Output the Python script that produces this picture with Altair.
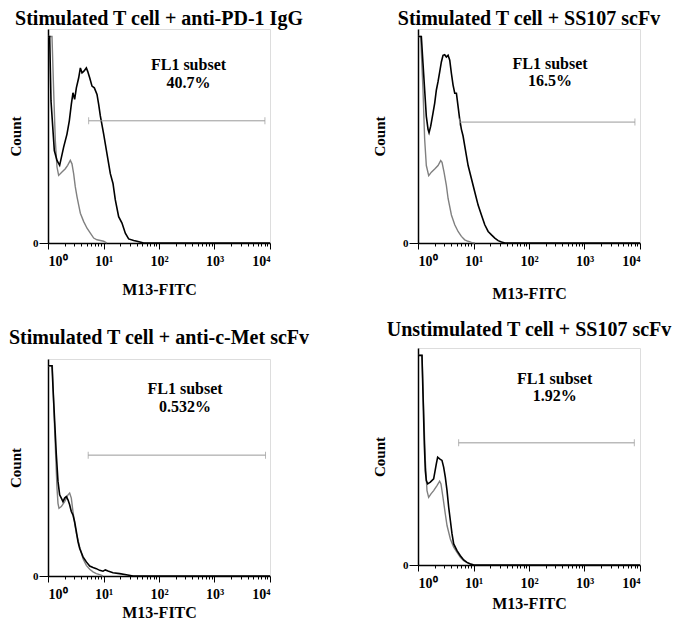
import altair as alt
import pandas as pd

FONT = "Liberation Serif"

titles = ["Stimulated T cell + anti-PD-1 IgG", "Stimulated T cell + SS107 scFv",
          "Stimulated T cell + anti-c-Met scFv", "Unstimulated T cell + SS107 scFv"]
subset_label = "FL1 subset"
subset_pct = ["40.7%", "16.5%", "0.532%", "1.92%"]

# x readings in log10(fluorescence), y readings in % of the panel's count range
p1_black_lg = [0, 0.030, 0.054, 0.114, 0.162, 0.210, 0.282, 0.342, 0.384, 0.420,
               0.450, 0.480, 0.511, 0.553, 0.583, 0.613, 0.643, 0.691, 0.715, 0.751,
               0.793, 0.835, 0.883, 0.913, 0.943, 1.003, 1.063, 1.123, 1.171, 1.213,
               1.273, 1.333, 1.393, 1.453, 1.544, 1.604, 1.724, 4.0]
p1_black_ct = [96.5, 96.5, 66.4, 43.2, 38.6, 36.3, 44.8, 50.9, 57.1, 64.8,
               70.2, 67.1, 72.5, 77.2, 81.8, 79.5, 80.2, 81.8, 80.2, 77.2,
               73.3, 72.5, 69.4, 64.8, 59.4, 50.9, 41.7, 32.4, 27.8, 20.1,
               12.3, 9.3, 4.6, 1.9, 1.2, 0.8, 0, 0]
p1_gray_lg = [0, 0.072, 0.102, 0.132, 0.162, 0.192, 0.252, 0.312, 0.354, 0.402,
              0.432, 0.462, 0.492, 0.523, 0.553, 0.583, 0.643, 0.703, 0.763, 0.823,
              0.883, 1.003, 1.063]
p1_gray_ct = [96.5, 96.5, 71.0, 47.8, 35.5, 31.6, 33.2, 34.7, 36.3, 38.6,
              37.0, 32.4, 26.2, 21.6, 17.7, 13.9, 10.0, 6.9, 4.6, 2.3,
              1.5, 0.8, 0]

p2_black_lg = [0, 0.060, 0.090, 0.120, 0.150, 0.181, 0.199, 0.229, 0.271, 0.301,
               0.331, 0.361, 0.391, 0.421, 0.451, 0.481, 0.511, 0.542, 0.572, 0.602,
               0.632, 0.662, 0.692, 0.722, 0.752, 0.782, 0.812, 0.842, 0.872, 0.903,
               0.963, 1.023, 1.083, 1.143, 1.203, 1.264, 1.324, 1.384, 1.444, 1.504,
               1.564, 4.0]
p2_black_ct = [96.5, 96.5, 83.8, 71.5, 59.2, 53.1, 51.5, 54.6, 60.8, 65.4,
               71.5, 75.4, 80.0, 84.6, 87.7, 88.0, 86.9, 87.7, 85.4, 79.2,
               73.8, 70.0, 70.0, 63.8, 57.7, 53.1, 50.0, 45.4, 40.8, 36.2,
               30.0, 23.8, 17.7, 13.1, 8.5, 5.4, 3.8, 2.3, 1.1, 0.5,
               0, 0]
p2_gray_lg = [0, 0.048, 0.090, 0.120, 0.150, 0.193, 0.241, 0.301, 0.361, 0.409,
              0.433, 0.469, 0.511, 0.542, 0.602, 0.662, 0.722, 0.782, 0.842, 0.903,
              0.963, 1.023]
p2_gray_ct = [96.5, 96.5, 71.5, 48.5, 36.2, 31.5, 33.1, 34.6, 36.2, 38.5,
              37.7, 33.1, 26.9, 20.8, 13.1, 8.5, 5.4, 3.1, 1.5, 0.8,
              0.3, 0]

p3_black_lg = [0, 0.072, 0.090, 0.120, 0.150, 0.180, 0.210, 0.240, 0.270, 0.300,
               0.330, 0.360, 0.390, 0.420, 0.450, 0.480, 0.511, 0.541, 0.571, 0.631,
               0.691, 0.751, 0.811, 0.871, 0.931, 0.991, 1.033, 1.081, 1.171, 1.291,
               1.411, 1.532, 4.0]
p3_black_ct = [96.9, 96.9, 86.9, 71.4, 56.0, 43.6, 37.4, 35.9, 34.3, 35.9,
               36.6, 35.1, 32.8, 29.7, 28.1, 25.0, 20.4, 15.8, 12.7, 8.8,
               6.5, 4.6, 3.9, 3.4, 2.6, 2.2, 2.8, 2.3, 1.5, 1.1,
               0.6, 0, 0]
p3_gray_lg = [0, 0.078, 0.102, 0.138, 0.162, 0.180, 0.198, 0.240, 0.300, 0.360,
              0.390, 0.420, 0.450, 0.480, 0.511, 0.571, 0.631, 0.691, 0.751, 0.811,
              0.871, 0.931, 0.991]
p3_gray_ct = [96.9, 96.9, 79.1, 56.0, 40.5, 33.5, 31.2, 32.0, 34.3, 37.4,
              38.2, 35.9, 29.7, 24.3, 19.6, 13.4, 8.0, 4.9, 3.1, 1.9,
              1.1, 0.6, 0]

p4_black_lg = [0, 0.072, 0.090, 0.114, 0.132, 0.150, 0.174, 0.222, 0.282, 0.330,
               0.354, 0.390, 0.432, 0.462, 0.492, 0.523, 0.553, 0.583, 0.613, 0.643,
               0.703, 0.763, 0.823, 0.883, 0.943, 1.003, 4.0]
p4_black_ct = [96.6, 96.6, 78.9, 55.8, 43.5, 38.9, 37.4, 38.2, 39.7, 46.6,
               49.7, 48.9, 48.2, 45.1, 40.5, 34.3, 26.6, 20.5, 14.3, 9.7,
               6.6, 4.3, 2.3, 1.2, 0.5, 0, 0]
p4_gray_lg = [0, 0.072, 0.102, 0.132, 0.162, 0.192, 0.234, 0.282, 0.342, 0.390,
              0.414, 0.450, 0.492, 0.523, 0.583, 0.643, 0.703, 0.763, 0.823, 0.883,
              0.943, 1.003]
p4_gray_ct = [96.6, 96.6, 71.2, 48.2, 34.3, 31.2, 32.8, 34.3, 36.6, 38.6,
              37.4, 31.2, 23.5, 18.2, 12.0, 8.2, 5.8, 3.5, 2.0, 1.1,
              0.5, 0.2]

gate_lo = [5.4, 5.6, 5.3, 5.4]
gate_hi = [8100, 8100, 8300, 7900]
gate_y = [57.1, 56.5, 55.7, 56.3]
label_x = [340, 240, 295, 290]
label_y1 = [83.3, 83.8, 86.2, 85.8]
label_y2 = [75.0, 75.9, 78.0, 77.8]

major_ticks = [1, 10, 100, 1000, 10000]
major_labels = ["10⁰", "10¹", "10²", "10³", "10⁴"]
all_ticks = [k * 10 ** d for d in range(4) for k in range(1, 10)] + [10000]

curves = [(p1_black_lg, p1_black_ct, p1_gray_lg, p1_gray_ct),
          (p2_black_lg, p2_black_ct, p2_gray_lg, p2_gray_ct),
          (p3_black_lg, p3_black_ct, p3_gray_lg, p3_gray_ct),
          (p4_black_lg, p4_black_ct, p4_gray_lg, p4_gray_ct)]

label_expr = ""
for v, s in zip(major_ticks, major_labels):
    label_expr += f"datum.value == {v} ? '{s}' : "
label_expr += "''"
major_test = "indexof([" + ",".join(str(v) for v in major_ticks) + "], datum.value) >= 0"

# per panel layout tweaks: title offset, x-title padding, y-title padding
title_offset = [0, 0, 11, 8]
xtitle_pad = [13, 17, 3, 5]
ytitle_pad = [9, 15, 9, 15]
heights = [214, 214, 217, 217]


def panel(i):
    blg, bct, glg, gct = curves[i]
    black = pd.DataFrame({"x": [10 ** v for v in blg], "y": bct})
    gray = pd.DataFrame({"x": [10 ** v for v in glg], "y": gct})
    gate = pd.DataFrame({"x": [gate_lo[i]], "x2": [gate_hi[i]], "y": [gate_y[i]]})
    caps = pd.DataFrame({"x": [gate_lo[i], gate_hi[i]], "y": [gate_y[i]] * 2})
    txt = pd.DataFrame({"x": [label_x[i], label_x[i]], "y": [label_y1[i], label_y2[i]],
                        "t": [subset_label, subset_pct[i]]})

    xs = alt.Scale(type="log", domain=[1, 10000], nice=False)
    ys = alt.Scale(domain=[0, 100], nice=False, zero=True)
    xax = alt.Axis(values=all_ticks, labelExpr=label_expr,
                   tickSize={"condition": {"test": major_test, "value": 6}, "value": 3},
                   labelFlush=True, labelOverlap=False, labelFont=FONT, labelFontSize=14,
                   labelFontWeight="bold", labelColor="black", labelPadding=5,
                   grid=False, domainColor="black", domainWidth=1.5, tickColor="black",
                   tickWidth=1, title="M13-FITC", titleFont=FONT, titleFontSize=16,
                   titleFontWeight="bold", titleColor="black", titlePadding=xtitle_pad[i])
    yax = alt.Axis(values=[0], tickSize=9, labelPadding=1, labelFont=FONT, labelFontSize=11,
                   labelFontWeight="bold", labelColor="black", grid=False,
                   domainColor="black", domainWidth=1.5, tickColor="black",
                   title="Count", titleFont=FONT, titleFontSize=15, titleFontWeight="bold",
                   titleColor="black", titlePadding=ytitle_pad[i])

    def X(field="x"):
        return alt.X(f"{field}:Q", scale=xs, axis=xax)

    def Y():
        return alt.Y("y:Q", scale=ys, axis=yax)

    gray_line = alt.Chart(gray).mark_line(color="#808080", strokeWidth=1.4).encode(x=X(), y=Y())
    black_line = alt.Chart(black).mark_line(color="black", strokeWidth=1.6).encode(x=X(), y=Y())
    gate_rule = alt.Chart(gate).mark_rule(color="#999999", strokeWidth=1).encode(
        x=X(), x2="x2:Q", y=Y())
    gate_caps = alt.Chart(caps).mark_tick(orient="vertical", size=7, thickness=1,
                                          color="#999999").encode(x=X(), y=Y())
    text = alt.Chart(txt).mark_text(font=FONT, fontSize=16, fontWeight="bold",
                                    baseline="middle", align="center", color="black").encode(
        x=X(), y=Y(), text="t:N")

    return alt.layer(gray_line, black_line, gate_rule, gate_caps, text).properties(
        width=222, height=heights[i],
        title=alt.TitleParams(text=titles[i], font=FONT, fontSize=20, fontWeight="bold",
                              color="black", anchor="middle", offset=title_offset[i]))


left = alt.vconcat(panel(0), panel(2), spacing=116, bounds="flush")
right = alt.vconcat(panel(1), panel(3), spacing=105, bounds="flush")
chart = alt.hconcat(left, right, spacing=62).properties(
    padding=0
).configure_view(stroke="#555555", strokeWidth=1).configure(font=FONT)

chart.save("out.html", embed_options={"renderer": "svg", "actions": False})
